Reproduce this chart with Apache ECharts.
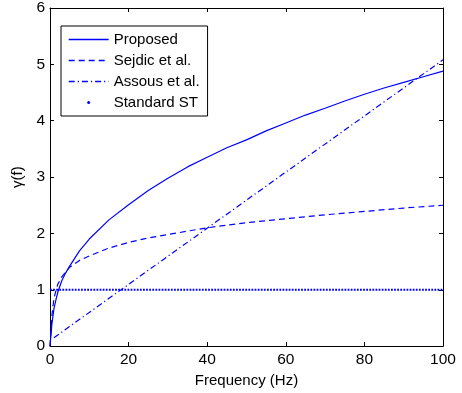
<!DOCTYPE html>
<html>
<head>
<meta charset="utf-8">
<script src="https://cdn.jsdelivr.net/npm/echarts@6/dist/echarts.min.js"></script>
<style>html,body{margin:0;padding:0;background:#fff}#c{width:462px;height:393px}</style>
</head>
<body>
<div id="c"></div>
<script>
// Frequencies (Hz) and gamma values
const proposedFreq = [0, 0.5, 1, 1.5, 2, 3, 4, 5, 7.5, 10, 15, 20, 25, 30, 35, 40, 45, 50, 55, 60, 65, 70, 75, 80, 85, 90, 95, 100];
const proposedVals = [0, 0.4, 0.66, 0.82, 0.96, 1.16, 1.3, 1.42, 1.69, 1.9, 2.24, 2.51, 2.76, 2.98, 3.18, 3.35, 3.52, 3.66, 3.82, 3.96, 4.1, 4.22, 4.35, 4.47, 4.58, 4.68, 4.78, 4.88];

const sejdicFreq = [0, 0.5, 1, 1.5, 2, 3, 5, 7.5, 10, 15, 20, 25, 30, 40, 50, 60, 70, 80, 90, 100];
const sejdicVals = [0, 0.55, 0.85, 0.98, 1.1, 1.23, 1.4, 1.52, 1.6, 1.74, 1.84, 1.92, 1.98, 2.1, 2.19, 2.26, 2.33, 2.39, 2.45, 2.5];

const assousFreq = [1, 100];
const assousVals = [0.15, 5.08];

const standardFreq = [0, 100];
const standardVals = [1, 1];

const seriesNames = ['Proposed', 'Sejdic et al.', 'Assous et al.', 'Standard ST'];
const xTicks = [0, 20, 40, 60, 80, 100];
const yTicks = [0, 1, 2, 3, 4, 5, 6];

function pairs(xs, ys) { return xs.map((x, i) => [x, ys[i]]); }

const FONT = 'Liberation Sans';
const BLUE = '#0000ff';
const DASH = [6, 4];
const DASHDOT = [6, 3, 1.2, 3];
const DOTS = [1.8, 1.3];
const chart = echarts.init(document.getElementById('c'), null, {renderer: 'canvas'});

const axisCommon = {
  axisLine: {show: true, onZero: false, lineStyle: {color: '#000', width: 1}},
  axisTick: {show: true, inside: true, length: 4, lineStyle: {color: '#000'}},
  splitLine: {show: false}
};

chart.setOption({
  animation: false,
  backgroundColor: '#fff',
  textStyle: {fontFamily: FONT},
  grid: {left: 50, right: 19, top: 8, bottom: 46},
  legend: {
    orient: 'vertical',
    left: 61, top: 26,
    padding: [6, 8, 6, 7],
    itemGap: 6,
    itemWidth: 40,
    itemHeight: 3,
    borderColor: '#000', borderWidth: 1,
    backgroundColor: '#fff',
    textStyle: {fontFamily: FONT, fontSize: 15, color: '#000', lineHeight: 15},
    data: [
      {name: seriesNames[0], itemStyle: {opacity: 0}, lineStyle: {width: 1.4}},
      {name: seriesNames[1], itemStyle: {opacity: 0}, lineStyle: {width: 1.4}},
      {name: seriesNames[2], itemStyle: {opacity: 0}, lineStyle: {width: 1.4}},
      {name: seriesNames[3], icon: 'circle', itemStyle: {color: BLUE}}
    ]
  },
  xAxis: [
    Object.assign({}, axisCommon, {
      type: 'value', min: xTicks[0], max: xTicks[xTicks.length - 1], interval: 20,
      name: 'Frequency (Hz)', nameLocation: 'middle', nameGap: 24,
      nameTextStyle: {fontFamily: FONT, fontSize: 15, color: '#000'},
      axisLabel: {fontFamily: FONT, fontSize: 15.5, color: '#000', margin: 6}
    }),
    Object.assign({}, axisCommon, {
      type: 'value', position: 'top', min: xTicks[0], max: xTicks[xTicks.length - 1], interval: 20,
      axisLabel: {show: false}
    })
  ],
  yAxis: [
    Object.assign({}, axisCommon, {
      type: 'value', min: yTicks[0], max: yTicks[yTicks.length - 1], interval: 1,
      name: 'γ(f)', nameLocation: 'middle', nameGap: 14, nameRotate: 90,
      nameTextStyle: {fontFamily: FONT, fontSize: 15, color: '#000'},
      axisLabel: {fontFamily: FONT, fontSize: 15.5, color: '#000', margin: 5}
    }),
    Object.assign({}, axisCommon, {
      type: 'value', position: 'right', min: yTicks[0], max: yTicks[yTicks.length - 1], interval: 1,
      axisLabel: {show: false}
    })
  ],
  series: [
    {name: seriesNames[0], type: 'line', data: pairs(proposedFreq, proposedVals), symbol: 'none', smooth: false,
     color: BLUE, lineStyle: {color: BLUE, width: 1.2, type: 'solid'}},
    {name: seriesNames[1], type: 'line', data: pairs(sejdicFreq, sejdicVals), symbol: 'none', smooth: false,
     color: BLUE, lineStyle: {color: BLUE, width: 1.2, type: DASH}},
    {name: seriesNames[2], type: 'line', data: pairs(assousFreq, assousVals), symbol: 'none',
     color: BLUE, lineStyle: {color: BLUE, width: 1.2, type: DASHDOT}},
    {name: seriesNames[3], type: 'line', data: pairs(standardFreq, standardVals), symbol: 'none',
     color: BLUE, itemStyle: {color: BLUE}, lineStyle: {color: BLUE, width: 2.2, type: DOTS}}
  ]
});
</script>
</body>
</html>
